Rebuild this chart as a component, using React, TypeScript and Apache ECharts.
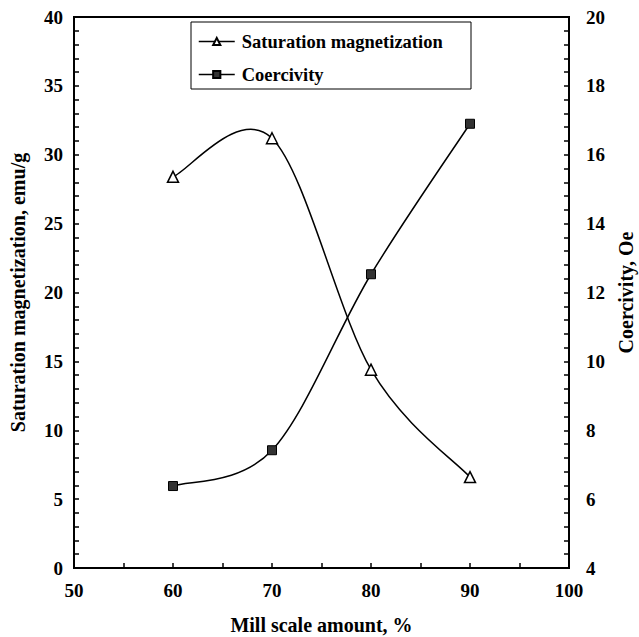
import React, { useEffect, useRef } from "react";
import * as echarts from "echarts";

const millScale = [60, 70, 80, 90];
const saturation = [28.4, 31.2, 14.4, 6.6];
const coercivity = [6.38, 7.42, 12.53, 16.9];

const FONT = "'Liberation Serif', 'Times New Roman', serif";

function splineSeries(id: string, xs: number[], ys: number[], yAxisIndex: number) {
  const n = xs.length;
  const clamp = (k: number) => Math.max(0, Math.min(n - 1, k));
  return {
    id,
    name: id,
    type: "custom",
    yAxisIndex,
    silent: true,
    z: 2,
    data: xs.map((x, i) => [x, ys[i]]),
    renderItem: (params: any, api: any) => {
      const i = params.dataIndex;
      if (i >= n - 1) return { type: "group", children: [] };
      const P = (k: number) => api.coord([xs[clamp(k)], ys[clamp(k)]]);
      const p0 = P(i - 1);
      const p1 = P(i);
      const p2 = P(i + 1);
      const p3 = P(i + 2);
      return {
        type: "bezierCurve",
        shape: {
          x1: p1[0],
          y1: p1[1],
          x2: p2[0],
          y2: p2[1],
          cpx1: p1[0] + (p2[0] - p0[0]) / 6,
          cpy1: p1[1] + (p2[1] - p0[1]) / 6,
          cpx2: p2[0] - (p3[0] - p1[0]) / 6,
          cpy2: p2[1] - (p3[1] - p1[1]) / 6,
        },
        style: { stroke: "#000", lineWidth: 1.5, fill: "none" },
      };
    },
  };
}

export default function App() {
  const ref = useRef<HTMLDivElement>(null);
  useEffect(() => {
    if (!ref.current) return;
    const chart = echarts.init(ref.current, undefined, { renderer: "svg" });
    const tickStyle = { color: "#000", fontFamily: FONT, fontWeight: "bold" as const, fontSize: 19 };
    const titleStyle = { color: "#000", fontFamily: FONT, fontWeight: "bold" as const, fontSize: 20 };
    const legendLine = { color: "#000", width: 1.5, opacity: 1, type: "solid" as const };
    chart.setOption({
      animation: false,
      backgroundColor: "#fff",
      grid: {
        left: 74,
        right: 70,
        top: 17,
        bottom: 69,
        containLabel: false,
        outerBoundsMode: "none",
        show: true,
        borderColor: "#000",
        borderWidth: 2,
        backgroundColor: "transparent",
      },
      graphic: [
        {
          type: "rect",
          shape: { x: 191, y: 22, width: 280, height: 67 },
          style: { fill: "#fff", stroke: "#000", lineWidth: 1 },
          z: 10,
        },
      ],
      legend: {
        orient: "vertical",
        left: 198,
        top: 32,
        padding: 0,
        itemGap: 14,
        itemWidth: 36,
        itemHeight: 9,
        z: 20,
        textStyle: { color: "#000", fontFamily: FONT, fontWeight: "bold", fontSize: 18.5, padding: [0, 0, 0, 2] },
        data: [
          { name: "Saturation magnetization", lineStyle: legendLine },
          { name: "Coercivity", lineStyle: legendLine },
        ],
      },
      xAxis: {
        type: "value",
        min: 50,
        max: 100,
        interval: 5,
        name: "Mill scale amount, %",
        nameLocation: "middle",
        nameGap: 47,
        nameTextStyle: titleStyle,
        axisLine: { lineStyle: { color: "#000", width: 2 } },
        axisTick: { inside: true, length: 5, lineStyle: { color: "#000", width: 1.5 } },
        axisLabel: {
          ...tickStyle,
          margin: 13,
          formatter: (v: number) => (v % 10 === 0 ? String(v) : ""),
        },
        splitLine: { show: false },
      },
      yAxis: [
        {
          type: "value",
          min: 0,
          max: 40,
          interval: 5,
          position: "left",
          name: "Saturation magnetization, emu/g",
          nameLocation: "middle",
          nameRotate: 90,
          nameGap: 46,
          nameTextStyle: titleStyle,
          axisLine: { show: true, lineStyle: { color: "#000", width: 2 } },
          axisTick: { show: true, inside: true, length: 5, lineStyle: { color: "#000", width: 1.5 } },
          minorTick: { show: true, splitNumber: 5, length: 5, lineStyle: { color: "#000", width: 1.5 } },
          axisLabel: { ...tickStyle, margin: 11 },
          splitLine: { show: false },
        },
        {
          type: "value",
          min: 4,
          max: 20,
          interval: 2,
          position: "right",
          name: "Coercivity, Oe",
          nameLocation: "middle",
          nameRotate: 90,
          nameGap: 47,
          nameTextStyle: titleStyle,
          axisLine: { show: true, lineStyle: { color: "#000", width: 2 } },
          axisTick: { show: true, inside: true, length: 5, lineStyle: { color: "#000", width: 1.5 } },
          minorTick: { show: true, splitNumber: 5, length: 5, lineStyle: { color: "#000", width: 1.5 } },
          axisLabel: { ...tickStyle, margin: 17 },
          splitLine: { show: false },
        },
      ],
      series: [
        splineSeries("sat-curve", millScale, saturation, 0),
        splineSeries("coe-curve", millScale, coercivity, 1),
        {
          name: "Saturation magnetization",
          type: "line",
          yAxisIndex: 0,
          data: millScale.map((x, i) => [x, saturation[i]]),
          symbol: "triangle",
          symbolSize: 11,
          showAllSymbol: true,
          lineStyle: { color: "#000", width: 1.5, opacity: 0 },
          itemStyle: { color: "#fff", borderColor: "#000", borderWidth: 1.5 },
          z: 3,
        },
        {
          name: "Coercivity",
          type: "line",
          yAxisIndex: 1,
          data: millScale.map((x, i) => [x, coercivity[i]]),
          symbol: "rect",
          symbolSize: 9,
          showAllSymbol: true,
          lineStyle: { color: "#000", width: 1.5, opacity: 0 },
          itemStyle: { color: "#333", borderColor: "#000", borderWidth: 1 },
          z: 3,
        },
      ],
    });
    return () => chart.dispose();
  }, []);
  return <div ref={ref} style={{ width: 639, height: 637, position: "absolute", left: 0, top: 0 }} />;
}
